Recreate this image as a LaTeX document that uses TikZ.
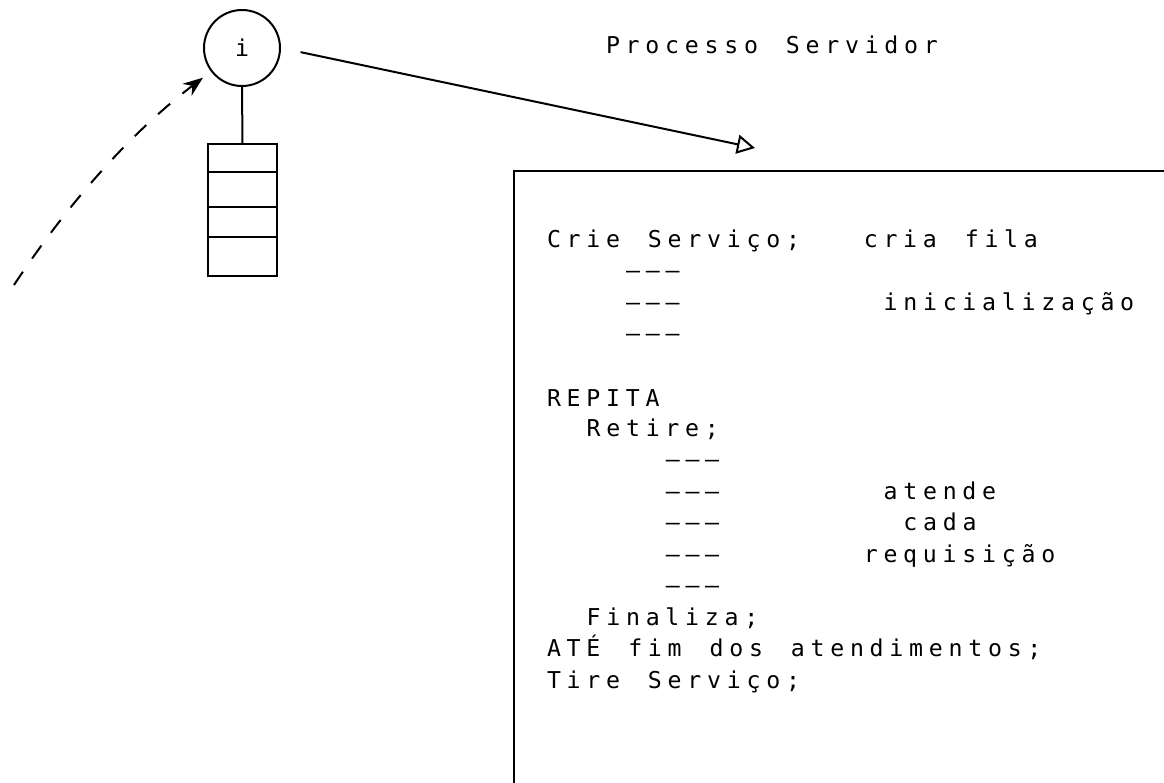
\documentclass[tikz,border=0pt]{standalone}
\usepackage{fontspec}
\newfontfamily\mono{DejaVu Sans Mono}[LetterSpace=24.8, WordSpace=1.414]
\usetikzlibrary{arrows.meta, positioning}

\begin{document}
\begin{tikzpicture}[x=0.5pt, y=-0.5pt, line width=1pt,
    every node/.style={font=\mono\fontsize{11.6}{14}\selectfont},
    codigo/.style={anchor=base west, inner sep=0pt},
    seta/.style={-{Triangle[open, length=9pt, width=9.5pt]}, shorten <=10pt},
    tracejada/.style={dash pattern=on 8pt off 8pt, -{Stealth[length=10pt, width=7.5pt]}, shorten >=5pt}]
    \useasboundingbox (0,0) rectangle (1164,783);

    % Processo e sua fila
    \node[circle, draw, minimum size=38pt, inner sep=0pt] (proc) at (242,48) {i};
    \node[draw, minimum width=34.5pt, minimum height=66pt, inner sep=0pt] (fila) at (242.5,210) {};
    \foreach \y in {172,207,237}
        \draw (fila.west |- 0,\y) -- (fila.east |- 0,\y);
    \draw (proc.south) -- (fila.north);

    % Chamada do cliente
    \coordinate (cliente) at (14,285);
    \draw[tracejada] (cliente) .. controls (67,205) and (129,134) .. (proc);

    % Processo Servidor
    \node[codigo] (titulo) at (605,53) {Processo Servidor};
    \coordinate (alvo) at (755,148);
    \draw[seta] (proc.east) -- (alvo);
    \draw (514,783) |- (1164,171);

    % Inicio do servico
    \node[codigo] (crie) at (546,247) {Crie Serviço;};
    \node[codigo] (criafila) at (862.8,247) {cria fila};
    \node[codigo] (tr1) at (625.2,278.5) {–––};
    \node[codigo] (tr2) at (625.2,310) {–––};
    \node[codigo] (inic) at (882.6,310) {inicialização};
    \node[codigo] (tr3) at (625.2,341.5) {–––};

    % Laco de atendimento
    \node[codigo] (repita) at (546,406) {REPITA};
    \node[codigo] (retire) at (585.6,436) {Retire;};
    \node[codigo] (tr4) at (664.8,467.5) {–––};
    \node[codigo] (tr5) at (664.8,499) {–––};
    \node[codigo] (atende) at (882.6,499) {atende};
    \node[codigo] (tr6) at (664.8,530.5) {–––};
    \node[codigo] (cada) at (902.4,530.5) {cada};
    \node[codigo] (tr7) at (664.8,562) {–––};
    \node[codigo] (requis) at (862.8,562) {requisição};
    \node[codigo] (tr8) at (664.8,593.5) {–––};
    \node[codigo] (finaliza) at (585.6,625) {Finaliza;};

    % Fim
    \node[codigo] (ate) at (546,656.5) {ATÉ fim dos atendimentos;};
    \node[codigo] (tire) at (546,688) {Tire Serviço;};
\end{tikzpicture}
\end{document}
